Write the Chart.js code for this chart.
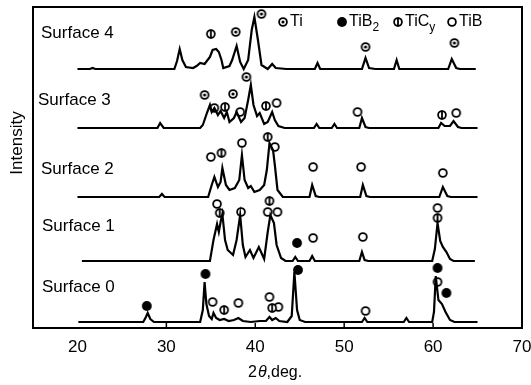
<!DOCTYPE html>
<html>
<head>
<meta charset="utf-8">
<script src="https://cdn.jsdelivr.net/npm/chart.js@4.4.0/dist/chart.umd.min.js"></script>
<style>
html,body{margin:0;padding:0;background:#fff;}
canvas{display:block;}
</style>
</head>
<body>
<canvas id="grafico" width="531" height="385"></canvas>
<script>
// Dados (2theta em graus, intensidade acima da linha base de cada curva)
const xTicks = [20, 30, 40, 50, 60, 70];
const nomes = ['Surface 0', 'Surface 1', 'Surface 2', 'Surface 3', 'Surface 4'];
const deslocamentos = [6, 67, 131, 200, 259];

const surface0 = [[20.1,0],[27.4,0],[27.7,5],[27.9,9],[28.2,3],[28.6,0],[33.8,0],[34.1,12],[34.3,40],[34.5,18],[34.8,6],[35.1,3],[35.3,9],[35.6,4],[36.0,2],[36.5,3],[37.0,1],[37.6,2],[38.1,4],[38.6,1],[39.5,0],[40.5,1],[41.2,1],[41.6,5],[41.9,2],[42.3,4],[42.7,1],[43.6,0],[44.1,6],[44.4,50],[44.7,12],[45.0,2],[45.6,0],[52.0,0],[52.3,4],[52.6,0],[56.7,0],[57.0,4],[57.3,0],[59.9,0],[60.1,10],[60.3,46],[60.6,22],[61.0,18],[61.4,10],[61.9,2],[62.4,0],[65.0,0]];
const surface1 = [[20.5,0],[34.9,0],[35.3,21],[35.7,37],[35.9,29],[36.1,39],[36.3,47],[36.6,21],[36.9,11],[37.5,6],[37.9,21],[38.3,46],[38.6,16],[38.9,4],[39.4,11],[39.8,3],[40.4,14],[41.0,2],[41.4,29],[41.7,46],[42.1,38],[42.4,16],[42.9,3],[43.4,0],[44.2,0],[44.5,4],[44.8,0],[46.1,0],[46.4,5],[46.7,0],[51.7,0],[52.0,9],[52.3,1],[52.7,0],[59.9,0],[60.2,12],[60.5,38],[60.8,20],[61.1,14],[61.5,9],[61.9,2],[62.3,0],[64.7,0]];
const surface2 = [[20.0,0],[29.2,0],[29.5,3],[29.8,0],[34.7,0],[35.1,12],[35.4,20],[35.8,10],[36.1,15],[36.3,29],[36.7,12],[37.1,7],[37.7,9],[38.2,17],[38.5,42],[38.8,17],[39.2,9],[39.5,11],[39.9,5],[40.5,7],[41.0,12],[41.3,27],[41.6,54],[42.0,47],[42.2,32],[42.5,7],[43.1,0],[46.1,0],[46.4,12],[46.8,1],[47.2,0],[51.8,0],[52.1,12],[52.5,1],[52.9,0],[60.7,0],[61.1,10],[61.6,1],[62.0,0],[65.0,0]];
const surface3 = [[20.0,0],[29.0,0],[29.3,5],[29.7,0],[33.8,0],[34.1,3],[34.6,16],[34.9,23],[35.1,16],[35.4,20],[35.8,13],[36.1,17],[36.5,10],[36.8,16],[37.1,6],[37.6,10],[37.9,16],[38.4,6],[38.8,10],[39.2,28],[39.5,43],[39.8,23],[40.2,12],[40.5,15],[41.0,4],[41.4,6],[41.9,16],[42.2,8],[42.6,2],[43.3,0],[46.6,0],[46.9,4],[47.2,0],[48.6,0],[48.9,4],[49.2,0],[51.7,0],[52.0,10],[52.4,1],[52.8,0],[60.6,0],[60.9,5],[61.3,2],[61.9,2],[62.3,7],[62.8,1],[63.2,0],[65.0,0]];
const surface4 = [[20.0,0],[21.4,0],[21.7,1],[22.0,0],[30.9,0],[31.2,8],[31.5,20],[31.8,9],[32.2,2],[33.0,1],[33.4,3],[33.8,6],[34.3,5],[34.9,12],[35.2,19],[35.6,20],[35.9,17],[36.2,9],[36.4,1],[37.1,3],[37.4,9],[37.9,23],[38.3,7],[38.7,0],[39.2,9],[39.6,39],[39.9,52],[40.3,29],[40.7,4],[41.4,0],[41.9,5],[42.3,1],[43.5,0],[46.7,0],[47.0,6],[47.3,0],[52.0,0],[52.4,11],[52.8,1],[53.5,0],[55.6,0],[55.9,9],[56.2,0],[61.7,0],[62.1,10],[62.6,1],[63.0,0],[64.8,0]];
const curvas = [surface0, surface1, surface2, surface3, surface4];

// Marcadores de fase: [curva, 2theta, altura acima da base]
const picosTi = [[4,37.8,37],[4,40.7,55],[4,52.4,22],[4,62.4,26],[3,34.3,33],[3,37.5,34],[3,39.0,51]];
const picosTiB2 = [[1,44.7,18],[0,27.8,16],[0,34.4,48],[0,44.8,52],[0,60.5,54],[0,61.5,29]];
const picosTiC = [[4,35.0,35],[3,36.6,21],[3,41.2,22],[3,61.0,13],[2,36.2,44],[2,41.4,60],[1,36.0,48],[1,41.6,60],[1,60.5,43],[0,36.5,12],[0,41.9,14]];
const picosTiB = [[3,35.4,20],[3,38.3,16],[3,42.4,25],[3,51.5,16],[3,62.6,15],[2,35.0,40],[2,38.5,54],[2,42.2,50],[2,46.5,30],[2,51.9,30],[2,61.1,24],[1,35.7,57],[1,38.4,49],[1,41.4,49],[1,42.5,49],[1,46.5,23],[1,52.1,24],[1,60.5,53],[0,35.2,20],[0,38.1,19],[0,41.6,25],[0,42.6,15],[0,52.4,11],[0,60.5,40]];

// Simbolos desenhados num canvas pequeno
function simbolo(tipo){
    const c = document.createElement('canvas'); c.width = 14; c.height = 14;
    const g = c.getContext('2d');
    g.strokeStyle = '#000'; g.fillStyle = '#000'; g.lineWidth = 1.8;
    g.beginPath();
    if(tipo === 'tib2'){ g.arc(7,7,4.9,0,Math.PI*2); g.fill(); return c; }
    g.arc(7,7,3.9,0,Math.PI*2);
    g.fillStyle = '#fff'; g.fill(); g.stroke();
    g.fillStyle = '#000';
    if(tipo === 'ti'){ g.beginPath(); g.arc(7,7,1.6,0,Math.PI*2); g.fill(); }
    if(tipo === 'tic'){ g.beginPath(); g.moveTo(7,2.5); g.lineTo(7,11.5); g.stroke(); }
    return c;
}
const simbolos = { ti: simbolo('ti'), tib2: simbolo('tib2'), tic: simbolo('tic'), tib: simbolo('tib') };

const fonte = '"Liberation Sans", Arial, sans-serif';

const datasets = curvas.map((c,i)=>({
    label: nomes[i],
    data: c.map(p=>({ x: p[0], y: deslocamentos[i] + p[1] })),
    showLine: true, borderColor: '#000', borderWidth: 2.2, pointRadius: 0, tension: 0
}));
function marcadores(lista, tipo){
    return {
        label: tipo,
        data: lista.map(p=>({ x: p[1], y: deslocamentos[p[0]] + p[2] })),
        showLine: false, pointStyle: simbolos[tipo], pointRadius: 5
    };
}
datasets.push(marcadores(picosTi,'ti'), marcadores(picosTiB2,'tib2'), marcadores(picosTiC,'tic'), marcadores(picosTiB,'tib'));

// Moldura, rotulos, legenda e titulos
const extras = {
    id: 'extras',
    afterDraw(chart){
        const ctx = chart.ctx, a = chart.chartArea, sx = chart.scales.x;
        ctx.save();
        ctx.strokeStyle = '#000'; ctx.lineWidth = 2;
        ctx.strokeRect(a.left, a.top, a.right-a.left, a.bottom-a.top);
        ctx.lineWidth = 1.5;
        xTicks.slice(1,-1).forEach(v=>{
            const px = sx.getPixelForValue(v);
            ctx.beginPath(); ctx.moveTo(px, a.bottom); ctx.lineTo(px, a.bottom-5); ctx.stroke();
        });
        ctx.fillStyle = '#000';
        ctx.font = '17px ' + fonte; ctx.textBaseline = 'middle'; ctx.textAlign = 'left';
        const posY = [287, 226, 169, 100, 33];
        nomes.forEach((n,i)=> ctx.fillText(n, [42,42,41,38,41][i], posY[i]));
        // legenda
        const itens = [['ti','Ti',''],['tib2','TiB','2'],['tic','TiC','y'],['tib','TiB','']];
        const xs = [283, 342, 398, 452];
        ctx.font = '16px ' + fonte;
        itens.forEach((it,i)=>{
            const s = simbolos[it[0]];
            ctx.drawImage(s, xs[i]-7, 22-7);
            ctx.fillText(it[1], xs[i]+7, 22);
            if(it[2]){
                const w = ctx.measureText(it[1]).width;
                ctx.font = '12px ' + fonte;
                ctx.fillText(it[2], xs[i]+7+w, 28);
                ctx.font = '16px ' + fonte;
            }
        });
        // titulo do eixo x
        ctx.font = '16px ' + fonte;
        let x0 = 248;
        ctx.fillText('2', x0, 373); x0 += ctx.measureText('2').width + 1;
        ctx.font = 'italic 16px ' + fonte;
        ctx.fillText('\u03b8', x0, 373); x0 += ctx.measureText('\u03b8').width;
        ctx.font = '16px ' + fonte;
        ctx.fillText(',deg.', x0, 373);
        // titulo do eixo y
        ctx.translate(17, 143);
        ctx.rotate(-Math.PI/2);
        ctx.textAlign = 'center';
        ctx.font = '17px ' + fonte;
        ctx.fillText('Intensity', 0, 0);
        ctx.restore();
    }
};

new Chart(document.getElementById('grafico'), {
    type: 'scatter',
    data: { datasets },
    options: {
        responsive: false, animation: false, devicePixelRatio: 1,
        layout: { padding: { left: 33, right: 9, top: 7, bottom: 0 } },
        plugins: { legend: { display: false }, tooltip: { enabled: false } },
        scales: {
            x: {
                type: 'linear', min: 15, max: 70,
                afterBuildTicks: s => { s.ticks = xTicks.map(v=>({ value: v })); },
                afterFit: s => { s.height = 57; s.paddingLeft = 0; s.paddingRight = 0; },
                grid: { display: false, drawTicks: false },
                border: { display: false },
                ticks: { color: '#000', padding: 9, font: { size: 17, family: fonte } }
            },
            y: { display: false, min: 0, max: 321 }
        }
    },
    plugins: [extras]
});
</script>
</body>
</html>
